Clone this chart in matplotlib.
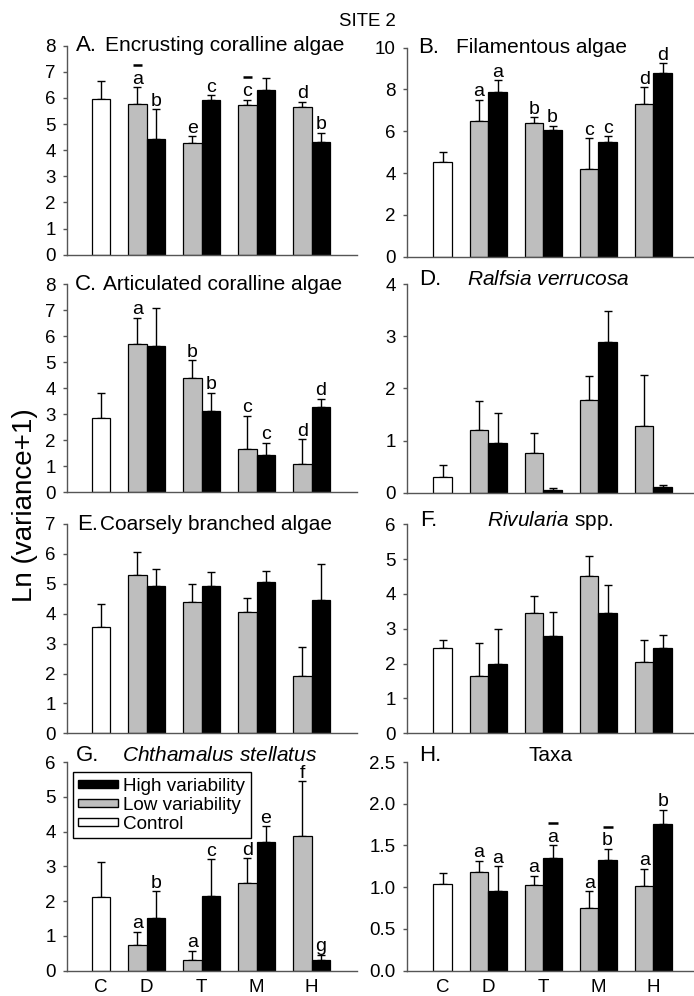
import numpy as np
import matplotlib
matplotlib.use('Agg')
import matplotlib.pyplot as plt
from matplotlib.patches import Patch
from matplotlib.transforms import offset_copy

plt.rcParams['font.family'] = ['Liberation Sans', 'DejaVu Sans']
plt.rcParams['mathtext.fontset'] = 'custom'
plt.rcParams['mathtext.rm'] = 'Liberation Sans'
plt.rcParams['mathtext.it'] = 'Liberation Sans:italic'

# order of bars: C, D low, D high, T low, T high, M low, M high, H low, H high
groups = ['C', 'D', 'T', 'M', 'H']

a_mean = [5.97, 5.78, 4.41, 4.26, 5.92, 5.74, 6.31, 5.64, 4.30]
a_se = [0.69, 0.62, 1.16, 0.27, 0.19, 0.20, 0.44, 0.21, 0.37]
a_letters = ['', '^a', 'b', 'e', 'c', '^c', '', 'd', 'b']

b_mean = [4.51, 6.49, 7.88, 6.41, 6.08, 4.19, 5.50, 7.30, 8.80]
b_se = [0.51, 1.01, 0.57, 0.26, 0.19, 1.47, 0.26, 0.80, 0.45]
b_letters = ['', 'a', 'a', 'b', 'b', 'c', 'c', 'd', 'd']

c_mean = [2.86, 5.69, 5.64, 4.38, 3.14, 1.68, 1.42, 1.08, 3.27]
c_se = [0.96, 1.03, 1.44, 0.70, 0.69, 1.27, 0.49, 0.97, 0.33]
c_letters = ['', 'a', '', 'b', 'b', 'c', 'c', 'd', 'd']

d_mean = [0.30, 1.20, 0.95, 0.76, 0.045, 1.77, 2.88, 1.28, 0.115]
d_se = [0.24, 0.56, 0.58, 0.38, 0.045, 0.47, 0.61, 0.97, 0.025]
d_letters = [''] * 9

e_mean = [3.57, 5.31, 4.91, 4.39, 4.92, 4.07, 5.06, 1.92, 4.47]
e_se = [0.77, 0.74, 0.59, 0.59, 0.46, 0.45, 0.36, 0.96, 1.19]
e_letters = [''] * 9

f_mean = [2.44, 1.64, 1.98, 3.46, 2.80, 4.52, 3.45, 2.06, 2.45]
f_se = [0.23, 0.94, 1.00, 0.48, 0.68, 0.57, 0.82, 0.63, 0.38]
f_letters = [''] * 9

g_mean = [2.11, 0.74, 1.52, 0.32, 2.15, 2.53, 3.69, 3.86, 0.32]
g_se = [1.01, 0.38, 0.77, 0.26, 1.05, 0.70, 0.47, 1.58, 0.14]
g_letters = ['', 'a', 'b', 'a', 'c', 'd', 'e', 'f', 'g']

h_mean = [1.04, 1.18, 0.95, 1.03, 1.35, 0.75, 1.33, 1.02, 1.76]
h_se = [0.13, 0.14, 0.30, 0.11, 0.15, 0.20, 0.13, 0.20, 0.17]
h_letters = ['', 'a', 'a', 'a', '^a', 'a', '^b', 'a', 'b']

W, H = 694, 996
GRAY = '#bebebe'
AXC = '#555555'
bw = 0.336

fig = plt.figure(figsize=(W / 100, H / 100), dpi=100)


def make_ax(x0, x1, top, bottom):
    return fig.add_axes([x0 / W, 1 - bottom / H, (x1 - x0) / W, (bottom - top) / H])


def draw_panel(ax, mean, se, letters, ymax, ystep, xlim, letter, title, tx, ty=1.0, fmt=None, xlabels=False):
    mean = np.array(mean)
    se = np.array(se)
    xs = [0.17]
    colors = ['white']
    for g in range(1, 5):
        xs += [g - bw / 2, g + bw / 2]
        colors += [GRAY, 'black']
    xs = np.array(xs)

    ax.errorbar(xs, mean, yerr=[np.zeros_like(se), se], fmt='none', ecolor='black',
                elinewidth=1, capsize=3.2, capthick=1, zorder=1)
    ax.bar(xs, mean, width=bw, color=colors, edgecolor='black', linewidth=0.9, zorder=2)

    for x, m, s, lab in zip(xs, mean, se, letters):
        if not lab:
            continue
        over = lab.startswith('^')
        lab = lab.lstrip('^')
        ax.annotate(lab, xy=(x, m + s), xytext=(0, 2.5), textcoords='offset points',
                    ha='center', va='baseline', fontsize=14)
        if over:
            # short bar drawn above the letter
            tr = offset_copy(ax.transData, fig=fig, y=16, units='points')
            ax.plot([x - 0.09, x + 0.09], [m + s, m + s], color='black', lw=1.8,
                    transform=tr, clip_on=False, solid_capstyle='butt')

    ax.set_xlim(*xlim)
    ax.set_ylim(0, ymax)
    ax.set_yticks(np.arange(0, ymax + ystep / 2, ystep))
    if fmt:
        ax.set_yticklabels([fmt % v for v in np.arange(0, ymax + ystep / 2, ystep)])
    for sp in ['top', 'right']:
        ax.spines[sp].set_visible(False)
    for sp in ['left', 'bottom']:
        ax.spines[sp].set_color(AXC)
        ax.spines[sp].set_linewidth(1)
    ax.tick_params(axis='y', direction='out', length=3, width=1, color=AXC,
                   labelsize=13.5, pad=5)
    ax.set_xticks([0.17, 1, 2, 3, 4])
    if xlabels:
        ax.set_xticklabels(groups)
    else:
        ax.set_xticklabels([])
    ax.tick_params(axis='x', length=0, labelsize=13.5, pad=6)

    ax.text(tx[0], ty, letter, transform=ax.transAxes, fontsize=16, ha='left', va='center')
    ax.text(tx[1], ty, title, transform=ax.transAxes, fontsize=15, ha='left', va='center')


LX = (66.7, 357)
RX = (406.7, 693)
LXLIM = (-0.455, 4.824)
RXLIM = (-0.484, 4.72)

axA = make_ax(LX[0], LX[1], 45.7, 254.7)
axB = make_ax(RX[0], RX[1], 47.7, 256.7)
axC = make_ax(LX[0], LX[1], 284.3, 492.3)
axD = make_ax(RX[0], RX[1], 284.0, 492.7)
axE = make_ax(LX[0], LX[1], 524.0, 733.3)
axF = make_ax(RX[0], RX[1], 524.3, 733.3)
axG = make_ax(LX[0], LX[1], 762.0, 970.7)
axH = make_ax(RX[0], RX[1], 762.0, 970.7)

draw_panel(axA, a_mean, a_se, a_letters, 8, 1, LXLIM, 'A.', 'Encrusting coralline algae', (0.032, 0.132))
draw_panel(axB, b_mean, b_se, b_letters, 10, 2, RXLIM, 'B.', 'Filamentous algae', (0.039, 0.172))
draw_panel(axC, c_mean, c_se, c_letters, 8, 1, LXLIM, 'C.', 'Articulated coralline algae', (0.029, 0.125))
draw_panel(axD, d_mean, d_se, d_letters, 4, 1, RXLIM, 'D.', r'$\mathit{Ralfsia\ verrucosa}$', (0.043, 0.21), ty=1.02)
draw_panel(axE, e_mean, e_se, e_letters, 7, 1, LXLIM, 'E.', 'Coarsely branched algae', (0.036, 0.115))
draw_panel(axF, f_mean, f_se, f_letters, 6, 1, RXLIM, 'F.', r'$\mathit{Rivularia}$ spp.', (0.046, 0.28), ty=1.02)
draw_panel(axG, g_mean, g_se, g_letters, 6, 1, LXLIM, 'G.', r'$\mathit{Chthamalus\ stellatus}$', (0.032, 0.19), ty=1.03, xlabels=True)
draw_panel(axH, h_mean, h_se, h_letters, 2.5, 0.5, RXLIM, 'H.', 'Taxa', (0.043, 0.424), ty=1.03, fmt='%.1f', xlabels=True)

handles = [Patch(facecolor='black', edgecolor='black', linewidth=1),
           Patch(facecolor=GRAY, edgecolor='black', linewidth=1),
           Patch(facecolor='white', edgecolor='black', linewidth=1)]
leg = axG.legend(handles, ['High variability', 'Low variability', 'Control'],
                 loc='upper left', bbox_to_anchor=(0.021, 0.951), borderaxespad=0,
                 fontsize=13.6, handlelength=2.1, handleheight=0.32, handletextpad=0.25,
                 labelspacing=0.1, borderpad=0.3, fancybox=False, framealpha=1)
leg.get_frame().set_edgecolor('black')
leg.get_frame().set_linewidth(1)

fig.text(367 / W, 1 - 21.7 / H, 'SITE 2', fontsize=13.4, ha='center', va='center')
fig.text(25 / W, 1 - 505 / H, 'Ln (variance+1)', fontsize=20, rotation=90, ha='center', va='center')

fig.savefig('out.png', dpi=100)
